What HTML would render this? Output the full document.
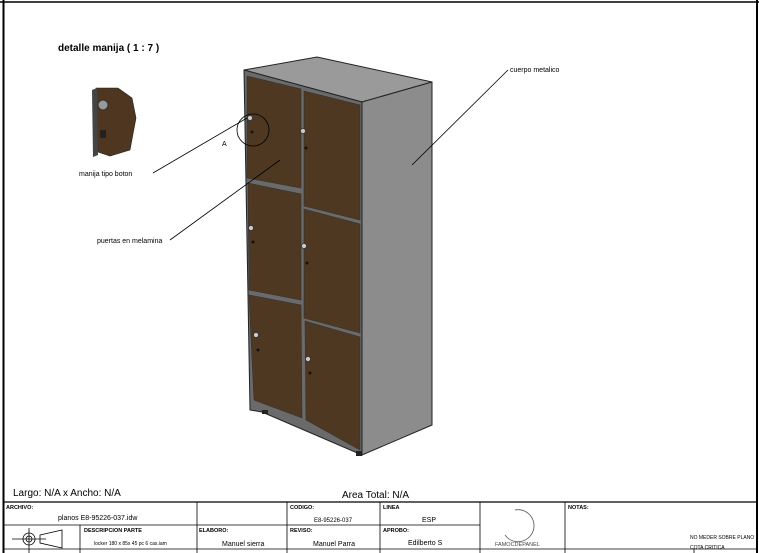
<!DOCTYPE html>
<html><head><meta charset="utf-8"><style>
body{margin:0;width:759px;height:553px;background:#fff;overflow:hidden;font-family:"Liberation Sans",sans-serif}
svg{position:absolute;left:0;top:0}
</style></head><body>
<svg width="759" height="553" viewBox="0 0 759 553" font-family="Liberation Sans, sans-serif">
<rect x="0" y="0" width="759" height="553" fill="#fff"/>
<line x1="3.5" y1="0" x2="3.5" y2="553" stroke="#000" stroke-width="2"/>
<line x1="757" y1="0" x2="757" y2="553" stroke="#000" stroke-width="2"/>
<line x1="0" y1="2" x2="759" y2="2" stroke="#000" stroke-width="1.5"/>
<text x="58" y="51" font-size="10" font-weight="bold">detalle manija ( 1 : 7 )</text>
<!-- detail -->
<polygon points="96,88 118,88 132,98 136,118 130,150 110,156 98,152" fill="#4e3620" stroke="#222" stroke-width="0.6"/>
<polygon points="92,90 97,88 98,155 93,157" fill="#444"/>
<circle cx="103" cy="105" r="5" fill="#999" stroke="#333"/>
<rect x="100" y="130" width="6" height="8" fill="#222"/>
<!-- cabinet -->
<polygon points="244,70 317,57 432,82 362,102" fill="#9a9a9a" stroke="#222"/>
<polygon points="362,102 432,82 432,425 362,455" fill="#8c8c8c" stroke="#222"/>
<polygon points="244,70 362,102 362,455 262,412 250,410" fill="#6a6a6a" stroke="#222"/>
<g fill="#4e3822" stroke="#333" stroke-width="0.6">
<polygon points="247,76 301,89 301,188 247,178"/>
<polygon points="304,91 360,105 360,220 304,206"/>
<polygon points="248,183 301,194 301,300 249,290"/>
<polygon points="304,209 360,224 360,333 304,318"/>
<polygon points="249,295 301,305 302,418 254,400"/>
<polygon points="305,321 360,337 360,450 306,420"/>
</g>
<rect x="262" y="410" width="6" height="4" fill="#222"/><rect x="356" y="451" width="6" height="5" fill="#222"/>
<g fill="#ccc" stroke="#333" stroke-width="0.7"><circle cx="250" cy="118" r="2.5"/><circle cx="303" cy="131" r="2.5"/><circle cx="251" cy="228" r="2.5"/><circle cx="304" cy="246" r="2.5"/><circle cx="256" cy="335" r="2.5"/><circle cx="308" cy="359" r="2.5"/></g>
<g fill="#111"><circle cx="252" cy="132" r="1.5"/><circle cx="306" cy="148" r="1.5"/><circle cx="253" cy="242" r="1.5"/><circle cx="307" cy="263" r="1.5"/><circle cx="258" cy="350" r="1.5"/><circle cx="310" cy="373" r="1.5"/></g>
<circle cx="253" cy="130" r="16" fill="none" stroke="#000" stroke-width="0.8"/>
<text x="222" y="146" font-size="7">A</text>
<!-- leaders -->
<g stroke="#000" stroke-width="0.8" fill="none">
<polyline points="153,173 247,118"/>
<polyline points="170,240 280,160"/>
<polyline points="508,70 412,165"/>
</g>
<text x="79" y="176" font-size="7">manija tipo boton</text>
<text x="97" y="243" font-size="7">puertas en melamina</text>
<text x="510" y="72" font-size="7">cuerpo metalico</text>
<text x="13" y="496" font-size="10">Largo: N/A x Ancho: N/A</text>
<text x="342" y="498" font-size="10">Area Total: N/A</text>
<!-- title block -->
<g stroke="#000" stroke-width="0.8">
<line x1="3" y1="502" x2="757" y2="502" stroke-width="1.2"/>
<line x1="3" y1="525" x2="480" y2="525"/>
<line x1="3" y1="549" x2="757" y2="549"/>
<line x1="197" y1="502" x2="197" y2="553"/>
<line x1="287" y1="502" x2="287" y2="553"/>
<line x1="380" y1="502" x2="380" y2="553"/>
<line x1="480" y1="502" x2="480" y2="553"/>
<line x1="565" y1="502" x2="565" y2="553"/>
<line x1="80" y1="525" x2="80" y2="553"/>
<line x1="694" y1="549" x2="694" y2="553"/>
</g>
<g font-size="5.5" font-weight="bold">
<text x="6" y="509">ARCHIVO:</text><text x="290" y="509">CODIGO:</text><text x="383" y="509">LINEA</text><text x="568" y="509">NOTAS:</text>
<text x="84" y="532">DESCRIPCION PARTE</text><text x="199" y="532">ELABORO:</text><text x="290" y="532">REVISO:</text><text x="383" y="532">APROBO:</text>
</g>
<text x="58" y="520" font-size="7">planos E8-95226-037.idw</text>
<text x="314" y="522" font-size="6">E8-95226-037</text>
<text x="422" y="522" font-size="7">ESP</text>
<text x="94" y="545" font-size="5">locker 180 x 85x 45 pc 6 cas.iam</text>
<text x="222" y="546" font-size="7">Manuel sierra</text>
<text x="313" y="546" font-size="7">Manuel Parra</text>
<text x="408" y="545" font-size="7">Edilberto S</text>
<text x="690" y="539" font-size="5">NO MEDER SOBRE PLANO</text>
<text x="690" y="549" font-size="5">COTA CRITICA</text>
<path d="M515,510 A16,16 0 1,1 505,535" fill="none" stroke="#555" stroke-width="0.8"/>
<text x="495" y="546" font-size="5.5" fill="#444">FAMOCDEPANEL</text>
<g stroke="#000" stroke-width="0.8" fill="none">
<line x1="12" y1="539" x2="46" y2="539"/><line x1="29" y1="528" x2="29" y2="553"/>
<circle cx="29" cy="539" r="6"/><circle cx="29" cy="539" r="3"/>
<polygon points="40,535 62,530 62,548 40,543"/>
</g>
</svg>
</body></html>
